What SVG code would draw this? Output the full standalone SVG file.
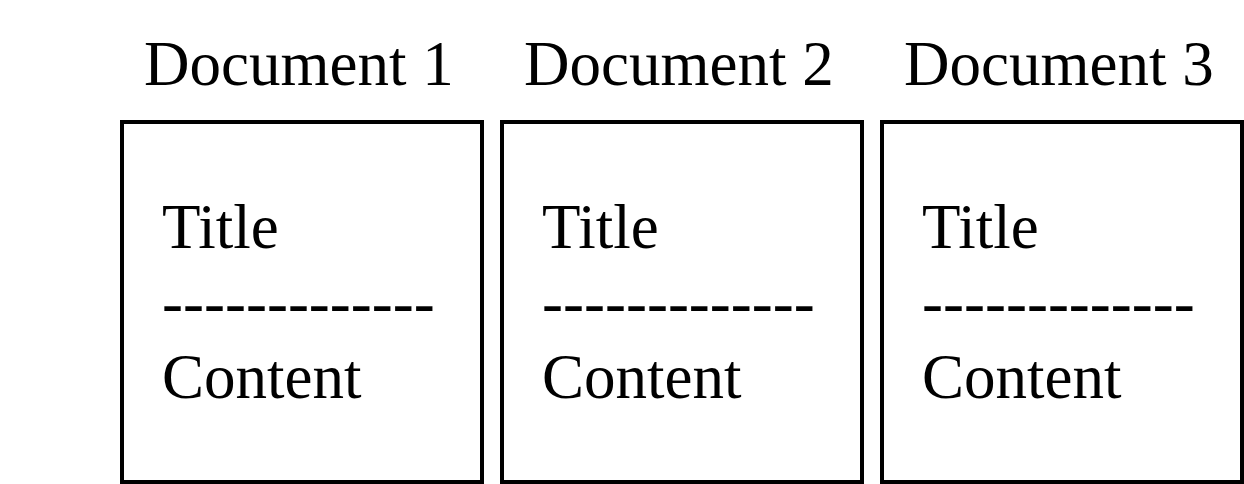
<svg xmlns="http://www.w3.org/2000/svg" width="1244" height="484" viewBox="0 0 1244 484">
<style>
.box{fill:#fff;stroke:#000;stroke-width:4}
.t{font-family:"Liberation Serif","Times New Roman",serif;font-size:63px;fill:#000}
</style>
<rect width="1244" height="484" fill="#fff"/>
<g id="doc1">
<text class="t" x="144" y="85">Document 1</text>
<rect class="box" x="122" y="122" width="360" height="360"/>
<text class="t" x="162" y="248">Title</text>
<text class="t" x="162" y="324">-------------</text>
<text class="t" x="162" y="398">Content</text>
</g>
<g id="doc2">
<text class="t" x="524" y="85">Document 2</text>
<rect class="box" x="502" y="122" width="360" height="360"/>
<text class="t" x="542" y="248">Title</text>
<text class="t" x="542" y="324">-------------</text>
<text class="t" x="542" y="398">Content</text>
</g>
<g id="doc3">
<text class="t" x="904" y="85">Document 3</text>
<rect class="box" x="882" y="122" width="360" height="360"/>
<text class="t" x="922" y="248">Title</text>
<text class="t" x="922" y="324">-------------</text>
<text class="t" x="922" y="398">Content</text>
</g>
<g id="connectors"></g>
</svg>
